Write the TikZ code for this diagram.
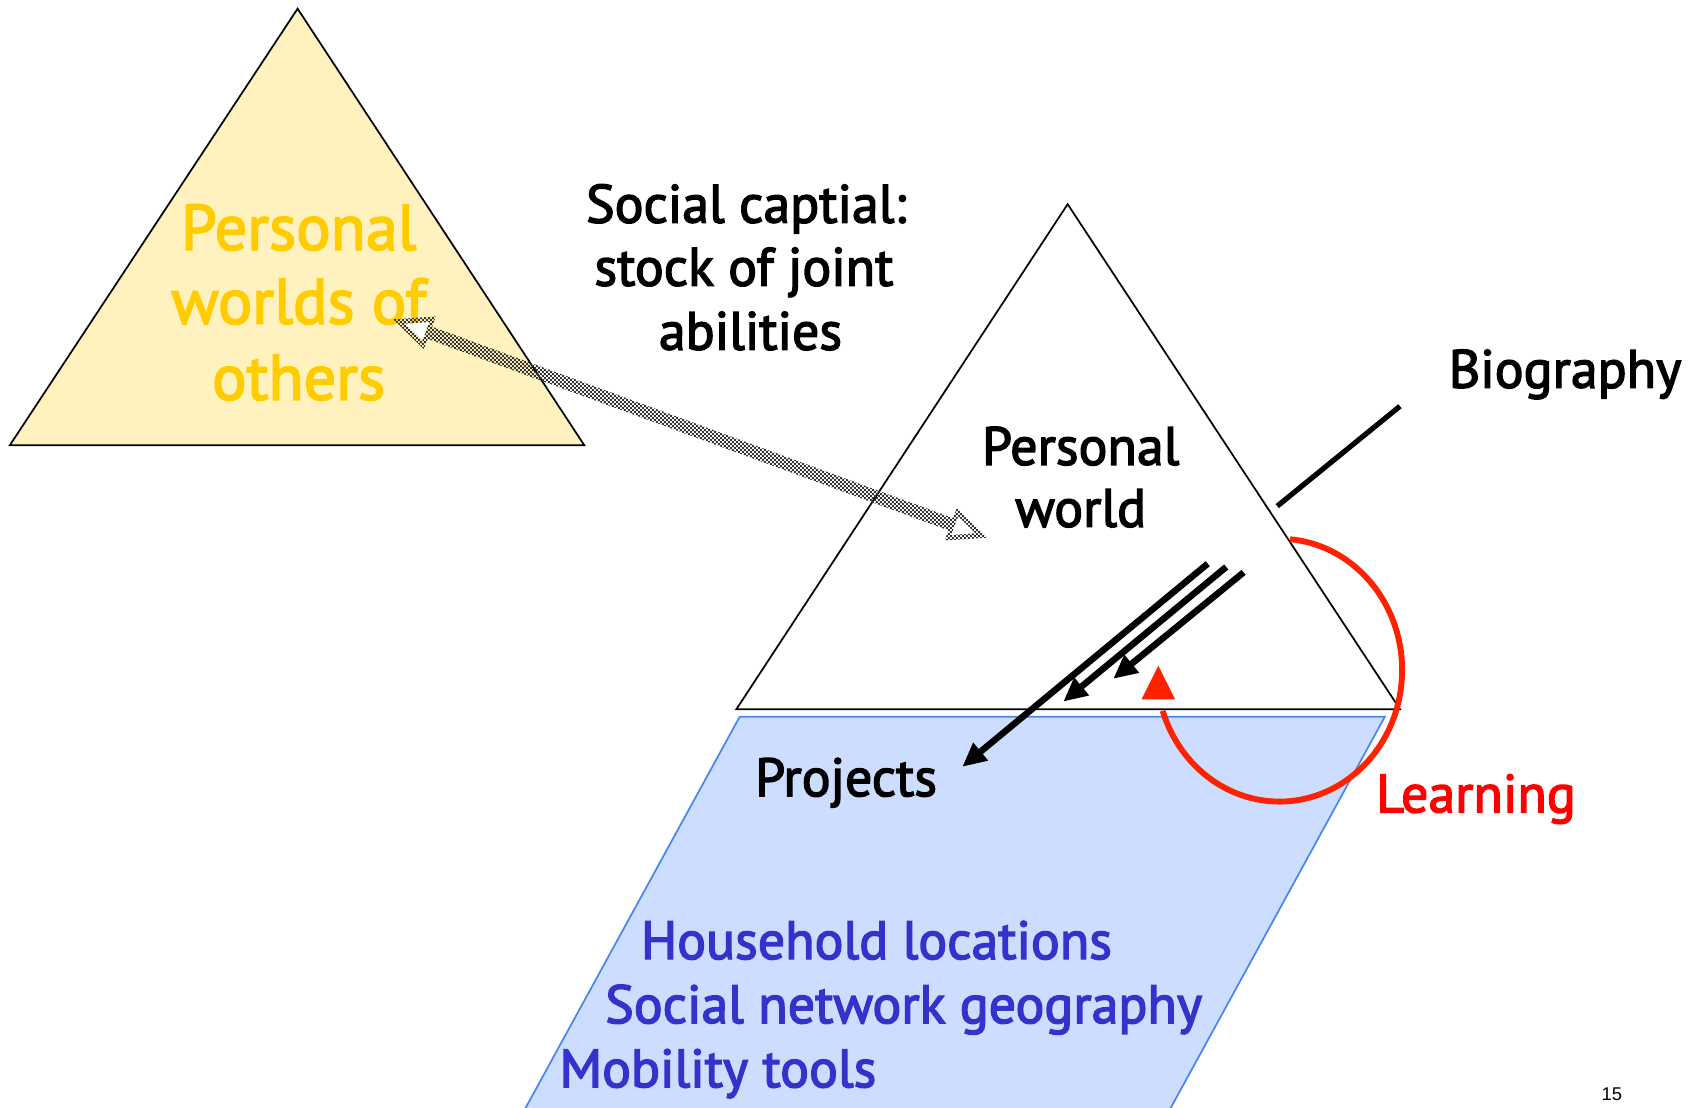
\documentclass[tikz,border=0pt]{standalone}
\usepackage{fontspec}
\setmainfont{PT Sans}[FakeBold=2.6]
\newfontfamily\pgnumfont{Liberation Sans}
\usetikzlibrary{arrows.meta,patterns.meta}

\definecolor{yfill}{HTML}{FFF2BF}
\definecolor{ytext}{HTML}{FFCC00}
\definecolor{bfill}{HTML}{CCDDFF}
\definecolor{bline}{HTML}{4A86F0}
\definecolor{btext}{HTML}{3333CC}
\definecolor{rline}{HTML}{FF2200}
\definecolor{rtext}{HTML}{FF0000}

\tikzdeclarepattern{
  name=finedots,
  type=uncolored,
  bounding box={(0pt,0pt) and (1.8pt,1.8pt)},
  tile size={(1.8pt,1.8pt)},
  code={
    \fill (0pt,0pt) rectangle (0.9pt,0.9pt);
    \fill (0.9pt,0.9pt) rectangle (1.8pt,1.8pt);
  }
}

\begin{document}
\begin{tikzpicture}[x=0.5pt,y=-0.5pt,
  every node/.style={inner sep=0pt, outer sep=0pt},
  tri/.style={draw=black, line width=0.8pt, line join=miter},
  lbl/.style={anchor=base, font=\fontsize{24.8}{28}\selectfont},
  biglbl/.style={anchor=base, font=\fontsize{29.6}{34}\selectfont, text=ytext},
  bluelbl/.style={lbl, text=btext},
  flow/.style={line width=3pt, -{Triangle[length=11pt,width=10pt]}},
  loop/.style={draw=rline, line width=2.7pt},
  dotarrow/.style={pattern={finedots}, pattern color=black!80}
]
\useasboundingbox (0,0) rectangle (1568,1020);
\clip (0,0) rectangle (1568,1020);

% left triangle
\coordinate (LA) at (274,8);
\coordinate (LL) at (9,410);
\coordinate (LR) at (538,410);
\filldraw[tri, fill=yfill] (LA) -- (LL) -- (LR) -- cycle;
\node[biglbl] (pw1) at (275,230) {Personal};
\node[biglbl] (pw2) at (275,298) {worlds of};
\node[biglbl] (pw3) at (275,368) {others};

% social capital
\node[lbl] (sc1) at (687,205) {Social captial:};
\node[lbl] (sc2) at (685,263) {stock of joint};
\node[lbl] (sc3) at (691,322) {abilities};

% parallelogram
\coordinate (P1) at (681,660);
\coordinate (P2) at (1275,660);
\coordinate (P3) at (1072.5,1030);
\coordinate (P4) at (478.5,1030);
\filldraw[fill=bfill, draw=bline, line width=0.8pt] (P1) -- (P2) -- (P3) -- (P4) -- cycle;

% right triangle
\coordinate (RA) at (983,188);
\coordinate (RL) at (678,653);
\coordinate (RR) at (1289,653);
\filldraw[tri, fill=white] (RA) -- (RL) -- (RR) -- cycle;
\node[lbl] (pr1) at (995,428) {Personal};
\node[lbl] (pr2) at (995,485) {world};

% biography
\node[lbl] (bio) at (1441,357) {Biography};
\coordinate (b1) at (1176,466);
\coordinate (b2) at (1289,374);
\draw[line width=2.4pt] (b1) -- (b2);

% texts in parallelogram
\node[lbl] (proj) at (779,733) {Projects};
\node[bluelbl] (hh) at (807,883) {Household locations};
\node[bluelbl] (sn) at (832,942) {Social network geography};
\node[bluelbl] (mt) at (661,1001) {Mobility tools};

% black arrows
\coordinate (a1s) at (1112,519);
\coordinate (a1e) at (886,706);
\coordinate (a2s) at (1129,522);
\coordinate (a2e) at (979,646);
\coordinate (a3s) at (1145,527);
\coordinate (a3e) at (1025,625);
\draw[flow] (a1s) -- (a1e);
\draw[flow] (a2s) -- (a2e);
\draw[flow] (a3s) -- (a3e);

% learning loop
\coordinate (ls) at (1187.8,496.5);
\draw[loop] (ls) arc[start angle=-85, end angle=162, x radius=113, y radius=121];
\coordinate (t1) at (1066.5,613);
\coordinate (t2) at (1051,644);
\coordinate (t3) at (1082,644);
\fill[rline] (t1) -- (t2) -- (t3) -- cycle;
\node[lbl, text=rtext] (learn) at (1359,748) {Learning};

% dotted double arrow
\begin{scope}[shift={(362,294)}, rotate=-20.18]
  \fill[dotarrow] (0,0) -- (36,-16) -- (36,-6) -- (547,-6) -- (547,-16) -- (583,0)
     -- (547,16) -- (547,6) -- (36,6) -- (36,16) -- cycle;
  \fill[white] (12,0) -- (32,-9) -- (32,9) -- cycle;
  \fill[white] (571,0) -- (551,-9) -- (551,9) -- cycle;
\end{scope}

% page number
\node[anchor=base, font=\pgnumfont\fontsize{8.5}{10}\selectfont] (pg) at (1484,1013) {15};
\end{tikzpicture}
\end{document}
